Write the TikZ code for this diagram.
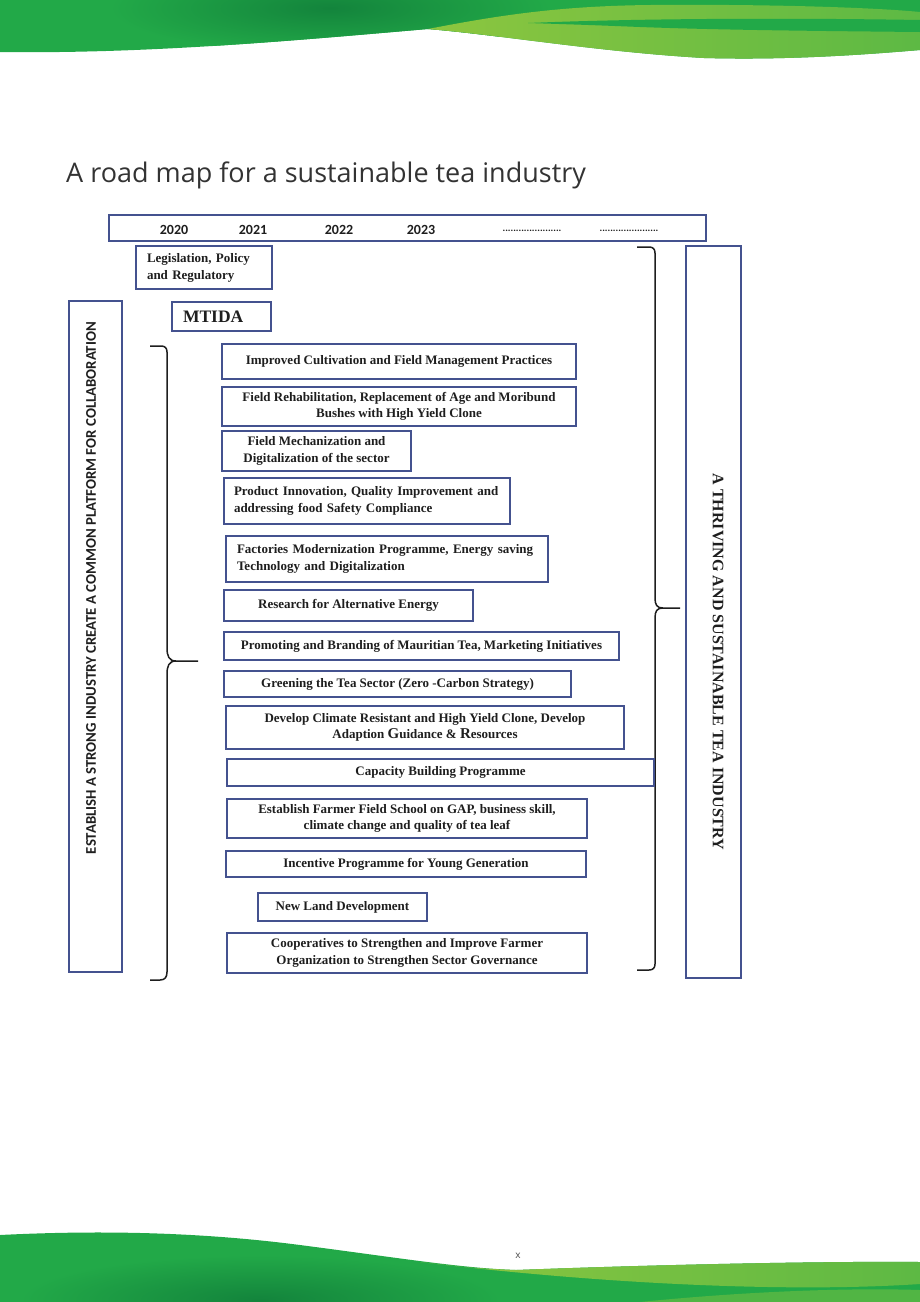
\documentclass[tikz,border=0pt]{standalone}
\usepackage{fontspec}
\setmainfont{Liberation Serif}
\newfontfamily\carl{Carlito}
\newfontfamily\titlef{Open Sans}
\definecolor{boxblue}{HTML}{44528F}
\definecolor{gmain}{HTML}{22A948}
\definecolor{gdark}{HTML}{13843C}
\definecolor{glime}{HTML}{5DB944}
\definecolor{glight}{HTML}{8CC63F}
\definecolor{txt}{HTML}{1E1E1E}
\begin{document}
\begin{tikzpicture}[x=1pt,y=-1pt,
  tbox/.style={draw=boxblue, line width=1.1pt, inner sep=2pt, text=txt, align=center,
    font=\bfseries\fontsize{13}{16.5}\selectfont},
  frame/.style={draw=boxblue, line width=1.1pt, inner sep=0pt},
  year/.style={font=\carl\bfseries\fontsize{14}{14}\selectfont, text=txt},
  dots/.style={font=\carl\bfseries\fontsize{10}{10}\selectfont, text=txt},
  brace/.style={draw=txt, line width=1.5pt}
]
\useasboundingbox (0,0) rectangle (920,1302);
% ---- top wave ----
\begin{scope}
\clip (0,0) -- (920,0) -- (920,50) .. controls (850,56) and (780,60) .. (704,58)
  .. controls (600,52) and (500,35) .. (428,29) .. controls (300,40) and (150,54) .. (0,52) -- cycle;
\fill[gmain] (0,0) rectangle (920,70);
\shade[inner color=gdark, outer color=gmain] (330,8) ellipse (220pt and 45pt);
\end{scope}
\shade[left color=glight, right color=glime] (428,29) .. controls (500,15) and (560,6) .. (650,5)
  .. controls (780,4) and (880,8) .. (920,12) -- (920,50) .. controls (850,56) and (780,60) .. (704,58)
  .. controls (600,52) and (500,35) .. (428,29) -- cycle;
\fill[gmain] (528,23) .. controls (650,18) and (800,18) .. (920,20) -- (920,32)
  .. controls (820,31) and (720,30) .. (640,27) .. controls (590,25) .. (528,23) -- cycle;
% ---- bottom wave ----
\begin{scope}
\clip (0,1302) -- (0,1235) .. controls (100,1230) and (200,1232) .. (300,1245)
  .. controls (400,1258) and (460,1268) .. (516,1270) .. controls (620,1266) and (800,1261) .. (920,1262)
  -- (920,1302) -- cycle;
\fill[gmain] (0,1220) rectangle (920,1302);
\shade[inner color=gdark, outer color=gmain] (260,1300) ellipse (240pt and 45pt);
\end{scope}
\shade[left color=glight, right color=glime] (420,1262) .. controls (470,1268) .. (516,1270)
  .. controls (620,1266) and (800,1261) .. (920,1262) -- (920,1284)
  .. controls (800,1292) and (620,1286) .. (420,1262) -- cycle;
\fill[glime, opacity=0.8] (640,1302) .. controls (760,1290) and (860,1288) .. (920,1290) -- (920,1302) -- cycle;
\node[font=\titlef\fontsize{10}{10}\selectfont, text=black!70] (pg) at (518,1256) {x};
% ---- title ----
\node[anchor=base west, inner sep=0pt, font=\titlef\fontsize{27}{30}\selectfont, text=black!80] (title)
  at (66,182) {A road map for a sustainable tea industry};
% ---- year bar ----
\node[frame, minimum width=597pt, minimum height=26pt] (years) at (407.5,228) {};
\node[year] (y20) at (174,230) {2020};
\node[year] (y21) at (253,230) {2021};
\node[year] (y22) at (339,230) {2022};
\node[year] (y23) at (421,230) {2023};
\node[dots] (d1) at (532,231) {......................};
\node[dots] (d2) at (629,231) {......................};
% ---- top-left boxes ----
\node[tbox, minimum width=136pt, minimum height=43pt, text width=114pt, align=left, inner xsep=11pt,
  font=\bfseries\fontsize{13}{17}\selectfont] (leg) at (204,267.5) {Legislation, Policy\\and Regulatory};
\node[tbox, minimum width=99pt, minimum height=29pt, text width=77pt, align=left, inner xsep=11pt,
  font=\bfseries\fontsize{17.5}{18}\selectfont] (mtida) at (221.5,316.5) {MTIDA};
% ---- side boxes ----
\node[frame, minimum width=53pt, minimum height=671pt] (lbox) at (95.5,636.5) {};
\node[rotate=90, font=\carl\bfseries\fontsize{14.8}{15}\selectfont, text=txt] (ltext) at (91,588)
  {ESTABLISH A STRONG INDUSTRY CREATE A COMMON PLATFORM FOR COLLABORATION};
\node[frame, minimum width=55pt, minimum height=732pt] (rbox) at (713.5,612) {};
\node[rotate=-90, font=\bfseries\fontsize{16}{16}\selectfont, text=txt] (rtext) at (718,662)
  {A THRIVING AND SUSTAINABLE TEA INDUSTRY};
% ---- braces ----
\draw[brace] (150,346) -- (161,346) .. controls (165,346) and (167,348) .. (167,352) -- (167,648)
  .. controls (167,656) and (169,661) .. (176,661) -- (198,661);
\draw[brace] (176,661) .. controls (169,661) and (167,666) .. (167,674) -- (167,972)
  .. controls (167,977) and (165,980) .. (160,980) -- (150,980);
\draw[brace] (637,247) -- (649,247) .. controls (653,247) and (655,249) .. (655,253) -- (655,598)
  .. controls (655,605) and (657,608) .. (663,608) -- (680,608);
\draw[brace] (663,608) .. controls (657,608) and (655,611) .. (655,618) -- (655,964)
  .. controls (655,968) and (653,970) .. (649,970) -- (637,970);
% ---- activity boxes ----
\node[tbox, minimum width=354pt, minimum height=35pt] (b1) at (399,361.5)
  {Improved Cultivation and Field Management Practices};
\node[tbox, minimum width=354pt, minimum height=39pt] (b2) at (399,406.5)
  {Field Rehabilitation, Replacement of Age and Moribund\\Bushes with High Yield Clone};
\node[tbox, minimum width=189pt, minimum height=40pt] (b3) at (316.5,451)
  {Field Mechanization and\\Digitalization of the sector};
\node[tbox, minimum width=286pt, minimum height=46pt, text width=266pt, align=left] (b4) at (367,501)
  {Product Innovation, Quality Improvement and\\addressing food Safety Compliance};
\node[tbox, minimum width=322pt, minimum height=46pt, text width=300pt, align=left] (b5) at (387,559)
  {Factories Modernization Programme, Energy saving\\Technology and Digitalization};
\node[tbox, minimum width=249pt, minimum height=31pt] (b6) at (348.5,605.5)
  {Research for Alternative Energy};
\node[tbox, minimum width=395pt, minimum height=28pt] (b7) at (421.5,646)
  {Promoting and Branding of Mauritian Tea, Marketing Initiatives};
\node[tbox, minimum width=347pt, minimum height=26pt] (b8) at (397.5,684)
  {Greening the Tea Sector (Zero -Carbon Strategy)};
\node[tbox, minimum width=398pt, minimum height=43pt] (b9) at (425,727.5)
  {Develop Climate Resistant and High Yield Clone, Develop\\Adaption {\fontsize{15}{16}\selectfont G}uidance \& {\fontsize{15}{16}\selectfont R}esources};
\node[tbox, minimum width=427pt, minimum height=27pt] (b10) at (440.5,772.5)
  {Capacity Building Programme};
\node[tbox, minimum width=360pt, minimum height=39pt] (b11) at (407,818.5)
  {Establish Farmer Field School on GAP, business skill,\\climate change and quality of tea leaf};
\node[tbox, minimum width=360pt, minimum height=26pt] (b12) at (406,864)
  {Incentive Programme for Young Generation};
\node[tbox, minimum width=169pt, minimum height=28pt] (b13) at (342.5,907)
  {New Land Development};
\node[tbox, minimum width=360pt, minimum height=40pt] (b14) at (407,953)
  {Cooperatives to Strengthen and Improve Farmer\\Organization to Strengthen Sector Governance};
\end{tikzpicture}
\end{document}
